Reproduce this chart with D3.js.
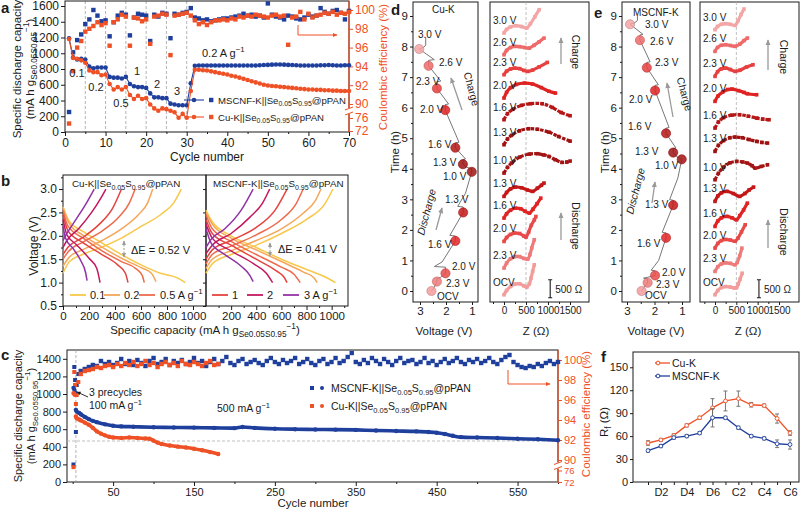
<!DOCTYPE html>
<html>
<head>
<meta charset="utf-8">
<script src="https://cdn.jsdelivr.net/npm/d3@7"></script>
<style>
  body { margin: 0; background: #fff; }
  svg { font-family: "Liberation Sans", Arial, sans-serif; }
</style>
</head>
<body>
<svg id="fig" width="800" height="510"></svg>
<script>
// ---------- panel a : rate test, cycles 1..70
const aCapMSCNF = [1190,950,920,930,920,830,810,820,820,820,
  700,690,690,680,700,610,580,570,570,560,
  490,440,440,430,430,360,350,340,340,340,
  620,840,845,845,845,845,845,845,845,845,
  845,845,845,845,845,845,845,848,850,852,
  855,858,858,855,852,850,848,845,845,845,
  845,845,848,848,850,848,845,845,848,848];
const aCapCu = [1180,940,930,910,880,780,760,760,720,730,
  610,540,570,540,570,470,420,460,420,430,
  350,300,270,300,290,270,250,180,230,180,
  520,790,790,785,780,770,760,750,740,730,
  715,705,690,675,660,645,630,615,600,590,
  585,580,575,570,565,560,555,550,545,540,
  540,535,535,530,530,525,525,520,520,520];
const aCeMSCNF = [82,95.5,96.8,97.4,98.5,99.0,100,99.4,98.8,98.9,
  97.2,98.7,99.4,99.7,99.5,97.3,99.2,99.6,99.5,99.4,
  96.7,99.5,99.3,99.7,99.6,97.0,99.6,99.5,99.7,99.8,
  100.2,99.2,99.1,98.9,99.0,98.8,98.9,99.0,99.1,99.1,
  99.2,99.3,99.4,99.6,99.4,99.5,99.3,99.4,99.2,100.7,
  99.5,99.3,99.2,99.0,99.4,99.3,99.1,99.0,99.2,99.5,
  99.3,99.4,100.2,99.8,99.6,99.9,100.0,99.7,99.0,99.9];
const aCeCu = [74.3,93.5,96.0,96.7,97.7,98.0,98.3,98.7,98.4,98.6,
  96.2,98.7,99.0,99.5,99.3,96.2,99.2,99.1,98.8,99.0,
  96.4,99.3,99.4,99.6,99.5,95.2,99.4,99.5,99.6,99.7,
  99.4,98.9,98.5,98.7,98.4,98.7,98.9,98.9,99.0,98.9,
  99.1,99.0,99.3,99.2,99.4,99.3,99.5,99.4,99.3,99.2,
  99.4,99.5,99.3,99.4,96.3,99.2,99.3,99.8,99.0,99.6,
  99.2,99.4,99.5,99.7,99.6,99.8,99.5,99.7,99.6,99.8];
const aRateSwitch = [5, 10, 15, 20, 25, 30];

// ---------- panel b : charge / discharge profiles [capacity, voltage]
const bRates = ["0.1", "0.2", "0.5", "1", "2", "3"];
const bColors = ["#f8c84a", "#f4a65a", "#ee6b4d", "#e5433f", "#c2195e", "#9233a6"];
const bCuDis = [
  [[0,2.62],[50,2.3],[150,2.1],[300,1.85],[450,1.6],[600,1.38],[750,1.2],[880,1.1],[940,1.0]],
  [[0,2.6],[50,2.25],[150,2.02],[300,1.76],[450,1.52],[600,1.32],[680,1.2],[715,1.02]],
  [[0,2.55],[40,2.2],[150,1.96],[300,1.68],[450,1.45],[560,1.3],[610,1.15],[625,1.0]],
  [[0,2.45],[40,2.1],[150,1.86],[300,1.6],[420,1.38],[480,1.2],[500,1.0]],
  [[0,2.35],[30,2.02],[100,1.82],[200,1.52],[260,1.3],[285,1.0]],
  [[0,2.2],[20,1.95],[80,1.72],[140,1.45],[175,1.2],[185,1.04]]];
const bCuChg = [
  [[0,1.2],[50,1.45],[150,1.6],[300,1.76],[450,1.95],[600,2.2],[750,2.45],[850,2.7],[910,3.0]],
  [[0,1.35],[50,1.55],[150,1.7],[300,1.9],[450,2.15],[580,2.45],[650,2.7],[690,3.0]],
  [[0,1.5],[40,1.66],[150,1.86],[300,2.1],[430,2.4],[510,2.7],[555,3.0]],
  [[0,1.6],[40,1.76],[150,1.96],[280,2.25],[380,2.58],[450,3.0]],
  [[0,1.75],[30,1.9],[120,2.15],[220,2.5],[290,2.8],[330,3.0]],
  [[0,1.9],[30,2.05],[100,2.35],[180,2.7],[240,3.0]]];
const bMsDis = [
  [[0,2.55],[50,2.3],[200,2.0],[400,1.75],[600,1.5],[800,1.28],[950,1.12],[1030,1.0]],
  [[0,2.5],[50,2.25],[200,1.95],[400,1.7],[600,1.45],[780,1.22],[860,1.1],[885,1.0]],
  [[0,2.45],[50,2.15],[200,1.88],[400,1.6],[600,1.33],[700,1.18],[750,1.0]],
  [[0,2.35],[50,2.05],[200,1.8],[400,1.5],[560,1.25],[620,1.12],[645,1.0]],
  [[0,2.25],[50,1.95],[200,1.68],[380,1.4],[480,1.2],[530,1.0]],
  [[0,2.15],[40,1.85],[150,1.6],[280,1.35],[350,1.15],[375,1.02]]];
const bMsChg = [
  [[0,1.2],[50,1.4],[200,1.6],[400,1.8],[600,2.05],[800,2.35],[950,2.7],[1010,3.0]],
  [[0,1.3],[50,1.5],[200,1.68],[400,1.9],[600,2.15],[780,2.5],[870,2.75],[915,3.0]],
  [[0,1.4],[50,1.6],[200,1.78],[400,2.02],[600,2.35],[720,2.7],[773,3.0]],
  [[0,1.5],[50,1.7],[200,1.9],[400,2.18],[550,2.55],[645,3.0]],
  [[0,1.62],[50,1.8],[200,2.05],[350,2.4],[450,2.7],[507,3.0]],
  [[0,1.75],[40,1.92],[150,2.15],[280,2.55],[375,3.0]]];

// ---------- panel c : long cycling
const cCapCyclesMS = [1,2,3,4,5,8,10,15,20,25,30,40,50,60,75,100,125,150,175,200,210,225,250,275,300,325,350,375,400,425,440,450,460,470,480,500,525,550,575,600];
const cCapMSCNF = [1070,1050,1020,820,800,785,770,740,715,695,680,655,640,632,628,622,620,618,615,612,625,615,605,600,597,595,592,585,580,575,568,560,545,525,510,505,500,492,485,475];
const cCapCyclesCu = [1,2,3,4,5,8,10,15,20,25,30,35,40,45,50,60,70,80,90,95,100,105,110,120,130,140,150,160,170,180];
const cCapCu = [1010,1000,990,745,725,710,700,675,650,615,575,550,530,515,505,500,505,500,495,492,470,448,432,415,402,392,378,360,340,318];
const cCeEarlyCycles = [1,2,3,4,5,7];
const cCeEarlyMSCNF = [84,99.3,98.0,92.8,97.5,98.6];
const cCeEarlyCu = [80.5,98.8,97.5,95.6,96.5,97.8];
const cCeMSCNF = [98.9,99.1,99.3,99.5,99.4,99.9,99.6,99.8,99.5,
  99.7,100.1,99.6,99.9,99.5,100.0,99.7,99.4,99.9,100.2,
  99.6,99.8,100.1,99.5,99.9,99.7,100.0,99.6,99.8,100.2,
  99.7,99.9,99.4,99.8,100.1,99.6,99.9,100.3,99.7,99.5,
  99.9,100.1,99.6,99.8,100.0,99.7,99.5,99.9,100.2,99.8,
  99.6,100.0,99.7,99.9,100.2,99.6,99.8,100.1,99.7,99.5,
  99.9,100.1,99.6,99.8,100.2,99.7,99.9,100.3,100.7,99.8,
  99.6,100.0,99.7,100.2,99.9,99.6,100.1,99.8,99.5,99.9,
  100.2,99.7,99.9,100.0,99.6,99.8,100.2,99.7,99.9,99.5,
  99.8,100.1,99.7,99.9,100.2,99.8,99.6,100.0,99.8,100.1,
  99.7,99.9,100.2,99.8,99.6,100.0,100.3,100.5,99.8,99.5,
  99.3,99.2,99.4,99.3,99.6,99.4,99.7,99.9,99.6,99.8];
const cCeCu = [98.6,98.9,99.0,99.1,99.3,99.2,99.4,99.5,99.3,99.6,
  99.4,99.7,99.5,99.8,99.4,99.6,99.9,99.5,99.7,99.3,
  99.6,99.8,99.5,99.7,99.4,99.9,99.6,99.5,99.8,99.6,
  99.4,99.7,99.9,99.5,99.6];

// ---------- panels d, e : in-situ EIS
const eisLabels = ["OCV","2.3 V","2.0 V","1.6 V","1.3 V","1.0 V","1.3 V","1.6 V","2.0 V","2.3 V","2.6 V","3.0 V"];
const eisColors = ["#f39c9c","#ee7b7b","#e84a4a","#e02424","#c41818","#a31414","#a01212","#b51616","#df2222","#e64040","#ee6a6a","#f4a5a5"];
const dStops = [[2.56,0],[2.35,0.31],[2.02,0.58],[1.64,1.64],[1.34,2.57],[1.01,3.90],[1.35,4.15],[1.64,4.69],[2.03,5.92],[2.35,6.63],[2.67,7.37],[3.03,7.92]];
const dTrace = [[2.56,0],[2.45,0.12],[2.35,0.31],[2.35,0.40],[2.20,0.45],[2.02,0.58],[2.02,0.78],[2.45,0.80],[2.15,0.95],[1.64,1.64],[1.64,1.80],[1.85,1.82],[1.34,2.57],[1.34,2.75],[1.55,2.77],[1.25,3.2],[1.01,3.90],[1.01,4.0],[1.20,4.05],[1.35,4.15],[1.35,4.3],[1.25,4.32],[1.64,4.69],[1.64,4.85],[1.50,4.87],[2.03,5.92],[2.03,6.1],[1.90,6.12],[2.35,6.63],[2.35,6.85],[2.20,6.87],[2.67,7.37],[2.67,7.55],[2.45,7.57],[3.03,7.92],[2.85,7.98],[2.78,8.05],[2.78,8.3]];
const dNyqBase = [0,742,1483,2132,2735,3384,4172,4867,5469,6118,6674,7277];
const dNyq = [
  [[0,0],[59,120],[148,230],[244,297],[355,306],[451,250],[518,213],[577,306],[614,464],[651,649],[688,834]],
  [[0,0],[59,140],[148,260],[244,320],[355,320],[451,270],[540,250],[590,380],[630,560],[688,790]],
  [[0,0],[59,110],[148,195],[244,232],[355,220],[451,150],[500,120],[560,260],[620,450],[690,600],[725,695]],
  [[0,0],[59,120],[148,220],[260,275],[380,260],[480,190],[577,139],[660,250],[750,400],[836,556]],
  [[0,0],[59,110],[148,210],[260,260],[400,240],[530,180],[651,139],[760,230],[850,310],[910,371]],
  [[0,0],[80,160],[170,278],[355,445],[577,528],[762,538],[900,505],[1021,463],[1169,371],[1317,297],[1428,306],[1502,334]],
  [[0,0],[80,160],[170,260],[355,390],[560,445],[760,430],[1021,350],[1240,230],[1502,100]],
  [[0,0],[80,170],[200,290],[400,400],[600,445],[870,445],[1100,340],[1300,200],[1502,111]],
  [[0,0],[59,160],[148,290],[280,380],[467,417],[650,390],[850,290],[1020,190],[1169,139]],
  [[0,0],[59,100],[148,160],[244,185],[355,170],[451,120],[540,93],[650,130],[800,220],[985,343]],
  [[0,0],[59,120],[148,200],[244,232],[355,225],[470,200],[577,185],[680,260],[800,360],[910,463]],
  [[0,0],[59,100],[148,170],[270,204],[400,180],[518,139],[600,260],[700,450],[799,649]]];
const eStops = [[2.47,0],[2.25,0.27],[1.98,0.51],[1.58,1.74],[1.32,2.81],[1.01,4.31],[1.32,4.53],[1.58,5.16],[1.98,6.56],[2.28,7.31],[2.53,8.21],[2.89,8.73]];
const eTrace = [[2.47,0],[2.38,0.12],[2.25,0.27],[2.25,0.40],[2.40,0.42],[2.25,0.45],[1.98,0.51],[1.98,0.66],[2.12,0.68],[1.85,1.0],[1.58,1.74],[1.58,1.9],[1.72,1.92],[1.32,2.81],[1.32,2.97],[1.45,2.99],[1.15,3.7],[1.01,4.31],[1.20,4.4],[1.32,4.53],[1.32,4.66],[1.22,4.68],[1.58,5.16],[1.58,5.33],[1.47,5.35],[1.98,6.56],[1.98,6.73],[1.86,6.75],[2.28,7.31],[2.28,7.48],[2.16,7.5],[2.53,8.21],[2.53,8.38],[2.42,8.4],[2.89,8.73],[2.72,8.78],[2.62,8.85],[2.62,9.0]];
const eNyqBase = [0,649,1298,1900,2596,3198,3986,4635,5377,6072,6767,7370];
const eNyq = [
  [[0,0],[65,120],[150,200],[250,230],[360,215],[450,190],[506,200],[545,300],[590,440],[636,600]],
  [[0,0],[65,130],[150,210],[250,240],[360,225],[470,185],[520,250],[580,440],[630,649]],
  [[0,0],[65,130],[150,210],[250,240],[360,225],[470,190],[540,280],[620,450],[708,649]],
  [[0,0],[65,150],[150,240],[280,280],[400,240],[506,185],[580,300],[670,460],[759,649]],
  [[0,0],[65,150],[150,240],[280,280],[430,220],[578,139],[700,220],[800,320],[904,399]],
  [[0,0],[80,180],[200,350],[350,470],[506,510],[650,495],[759,463],[870,390],[940,324],[1085,371],[1230,417]],
  [[0,0],[80,170],[200,300],[350,380],[470,400],[640,380],[800,330],[976,278],[1100,250],[1230,232]],
  [[0,0],[80,170],[200,290],[400,360],[578,371],[780,330],[976,278],[1120,250],[1266,232]],
  [[0,0],[70,150],[180,260],[300,330],[398,343],[550,300],[680,250],[759,213],[976,185]],
  [[0,0],[60,130],[150,210],[250,230],[360,190],[470,139],[580,170],[740,260],[890,324]],
  [[0,0],[60,110],[150,170],[250,185],[360,165],[470,139],[580,200],[680,300],[759,371]],
  [[0,0],[60,90],[150,150],[250,167],[360,150],[470,120],[540,250],[610,420],[679,575]]];

// ---------- panel f : Rf
const fSteps = ["D1","D2","D3","D4","D5","D6","C1","C2","C3","C4","C5","C6"];
const fCu = [51,55,61,74,84,97,106,109,101,100,83,64];
const fCuErr = [3,2,2,2,2,12,13,10,3,2,6,3];
const fMs = [41,47,58,60,64,84,84,71,60,57,50,49];
const fMsErr = [2,2,2,2,2,12,2,2,2,2,5,6];

// ================= drawing =================
const svg = d3.select("#fig");
const INK = "#1a1a1a";
const BLUE = "#1f3f9d", RED = "#ef5126", GRAY = "#9a9a9a";
const plain = d3.format("d");

const defs = svg.append("defs");
function arrowMarker(id, color) {
  defs.append("marker").attr("id", id).attr("viewBox", "0 0 10 10")
    .attr("refX", 8).attr("refY", 5).attr("markerWidth", 5).attr("markerHeight", 5)
    .attr("orient", "auto-start-reverse")
    .append("path").attr("d", "M0,1L9,5L0,9z").attr("fill", color);
}
arrowMarker("arGray", GRAY);
arrowMarker("arRed", RED);
arrowMarker("arInk", INK);

// text with sub / superscripts
function rich(x, y, parts, o = {}) {
  const size = o.size || 10;
  const t = svg.append("text").attr("x", x).attr("y", y)
    .attr("font-size", size).attr("fill", o.fill || INK)
    .attr("text-anchor", o.anchor || "start");
  if (o.rotate) t.attr("transform", `rotate(${o.rotate},${x},${y})`);
  let shift = 0;
  parts.forEach(p => {
    const [txt, kind] = Array.isArray(p) ? p : [p, ""];
    const target = kind === "sub" ? size * 0.3 : kind === "sup" ? -size * 0.42 : 0;
    const s = t.append("tspan").text(txt).attr("dy", target - shift);
    if (kind) s.attr("font-size", size * 0.72);
    shift = target;
  });
  return t;
}
const cell = name => [name + "||Se", ["0.05", "sub"], "S", ["0.95", "sub"], "@pPAN"];
const gUnit = ["(mA h g", ["Se0.05S0.95", "sub"], ["\u22121", "sup"], ")"];
const perG = txt => [txt + " A g", ["\u22121", "sup"]];

function drawAxis(axis, tx, ty, o = {}) {
  const g = svg.append("g").attr("transform", `translate(${tx},${ty})`).call(axis);
  g.select(".domain").remove();
  g.selectAll(".tick line").attr("stroke", o.color || INK);
  g.selectAll(".tick text").attr("font-size", o.size || 11).attr("fill", o.color || INK)
    .attr("font-family", "Liberation Sans, Arial, sans-serif");
  return g;
}
function box(x0, y0, x1, y1, rightColor) {
  svg.append("rect").attr("x", x0).attr("y", y0).attr("width", x1 - x0).attr("height", y1 - y0)
    .attr("fill", "none").attr("stroke", INK).attr("stroke-width", 1);
  if (rightColor) svg.append("line").attr("x1", x1).attr("x2", x1).attr("y1", y0).attr("y2", y1)
    .attr("stroke", rightColor).attr("stroke-width", 1.2);
}
function axisBreak(x, y) {
  svg.append("rect").attr("x", x - 4).attr("y", y - 3).attr("width", 8).attr("height", 6).attr("fill", "#fff");
  [-2.5, 2.5].forEach(d => svg.append("line").attr("x1", x - 4).attr("x2", x + 4)
    .attr("y1", y + d + 1.5).attr("y2", y + d - 1.5).attr("stroke", RED).attr("stroke-width", 1));
}
function panelLetter(t, x, y) {
  svg.append("text").attr("x", x).attr("y", y).attr("font-size", 15).attr("font-weight", "bold").attr("fill", INK).text(t);
}
function arrowPath(pts, marker, color, w) {
  svg.append("path").attr("d", d3.line()(pts)).attr("fill", "none").attr("stroke", color)
    .attr("stroke-width", w || 1).attr("marker-end", `url(#${marker})`);
}
function squares(data, xf, yf, color, s) {
  svg.append("g").selectAll("rect").data(data).join("rect")
    .attr("x", d => xf(d) - s / 2).attr("y", d => yf(d) - s / 2)
    .attr("width", s).attr("height", s).attr("fill", color);
}

// ---------------- panel a ----------------
{
  const x = d3.scaleLinear().domain([0, 70]).range([65, 349]);
  const y = d3.scaleLinear().domain([0, 1600]).range([132, 6]);
  const ce = d3.scaleLinear().domain([72, 76, 90, 100]).range([131, 118, 104, 10]);
  const cyc = d3.range(1, 71);
  aRateSwitch.forEach(c => svg.append("line").attr("x1", x(c)).attr("x2", x(c)).attr("y1", 1).attr("y2", 132)
    .attr("stroke", "#a0a0a0").attr("stroke-dasharray", "3,2").attr("stroke-width", 0.8));
  box(65, 1, 349, 132, RED);
  drawAxis(d3.axisBottom(x).tickValues(d3.range(0, 71, 10)).tickFormat(plain).tickSize(4).tickPadding(2), 0, 132, { size: 12 });
  drawAxis(d3.axisBottom(x).tickValues(d3.range(5, 70, 10)).tickSize(2).tickFormat(""), 0, 132);
  drawAxis(d3.axisLeft(y).tickValues(d3.range(0, 1601, 200)).tickFormat(plain).tickSize(4).tickPadding(2), 65, 0, { size: 12 });
  drawAxis(d3.axisRight(ce).tickValues([72, 76, 90, 92, 94, 96, 98, 100]).tickFormat(plain).tickSize(4).tickPadding(2), 349, 0, { size: 12, color: RED });
  axisBreak(349, 111);

  squares(aCeMSCNF.map((v, i) => [cyc[i], v]), d => x(d[0]), d => ce(d[1]), BLUE, 4.4);
  squares(aCeCu.map((v, i) => [cyc[i], v]), d => x(d[0]), d => ce(d[1]), RED, 4.4);
  [[aCapMSCNF, BLUE], [aCapCu, RED]].forEach(([vals, col]) => {
    svg.append("path").attr("d", d3.line().x((d, i) => x(cyc[i])).y(d => y(d))(vals))
      .attr("fill", "none").attr("stroke", col).attr("stroke-width", 1.1);
    svg.append("g").selectAll("circle").data(vals).join("circle")
      .attr("cx", (d, i) => x(cyc[i])).attr("cy", d => y(d)).attr("r", 2.3).attr("fill", col);
  });

  // rate labels
  [["0.1", 77, 77], ["0.2", 96, 91], ["0.5", 121, 107], ["1", 137, 75], ["2", 157, 88], ["3", 177, 95]]
    .forEach(([t, px, py]) => svg.append("text").attr("x", px).attr("y", py).attr("text-anchor", "middle")
      .attr("font-size", 11).attr("fill", INK).text(t));
  rich(202, 57, perG("0.2"), { size: 11 });
  arrowPath([[298, 25], [298, 35], [337, 35]], "arRed", RED, 1);

  // legend
  [[BLUE, 100, "MSCNF-K"], [RED, 117, "Cu-K"]].forEach(([col, ly, name]) => {
    svg.append("line").attr("x1", 184).attr("x2", 204).attr("y1", ly).attr("y2", ly).attr("stroke", col).attr("stroke-width", 1.1);
    svg.append("circle").attr("cx", 194).attr("cy", ly).attr("r", 2.3).attr("fill", col);
    svg.append("rect").attr("x", 209).attr("y", ly - 2.2).attr("width", 4.4).attr("height", 4.4).attr("fill", col);
    rich(218, ly + 3.5, cell(name), { size: 9.6 });
  });

  rich(207, 161, ["Cycle number"], { size: 12, anchor: "middle" });
  rich(21, 69, ["Specific discharge capacity"], { size: 11.5, anchor: "middle", rotate: -90 });
  rich(34, 69, gUnit, { size: 11.5, anchor: "middle", rotate: -90 });
  rich(387, 67, ["Coulombic efficiency (%)"], { size: 11.5, anchor: "middle", rotate: -90, fill: RED });
  panelLetter("a", 1, 13);
}

// ---------------- panel b ----------------
{
  const y = d3.scaleLinear().domain([0.5, 3.3]).range([306, 175]);
  const xl = d3.scaleLinear().domain([0, 1100]).range([63, 206]);
  const xr = d3.scaleLinear().domain([0, 1130]).range([206, 348]);
  box(63, 175, 206, 306);
  box(206, 175, 348, 306);
  drawAxis(d3.axisLeft(y).tickValues([0.5, 1, 1.5, 2, 2.5, 3]).tickFormat(d3.format(".1f")).tickSize(4).tickPadding(2), 63, 0, { size: 12 });
  drawAxis(d3.axisLeft(y).tickValues([0.75, 1.25, 1.75, 2.25, 2.75, 3.25]).tickSize(2).tickFormat(""), 63, 0);
  drawAxis(d3.axisLeft(y).tickValues([0.5, 1, 1.5, 2, 2.5, 3]).tickSize(3).tickFormat(""), 206, 0);
  drawAxis(d3.axisBottom(xl).tickValues([0, 200, 400, 600, 800, 1000]).tickFormat(plain).tickSize(4).tickPadding(2), 0, 306, { size: 11.5 });
  drawAxis(d3.axisBottom(xl).tickValues([100, 300, 500, 700, 900]).tickSize(2).tickFormat(""), 0, 306);
  drawAxis(d3.axisBottom(xr).tickValues([200, 400, 600, 800, 1000]).tickFormat(plain).tickSize(4).tickPadding(2), 0, 306, { size: 11.5 });
  drawAxis(d3.axisBottom(xr).tickValues([100, 300, 500, 700, 900, 1100]).tickSize(2).tickFormat(""), 0, 306);

  const line = sx => d3.line().curve(d3.curveMonotoneX).x(d => sx(d[0])).y(d => y(d[1]));
  [[xl, bCuDis, bCuChg], [xr, bMsDis, bMsChg]].forEach(([sx, dis, chg]) => {
    bRates.forEach((r, i) => {
      [dis[i], chg[i]].forEach(c => svg.append("path").attr("d", line(sx)(c))
        .attr("fill", "none").attr("stroke", bColors[i]).attr("stroke-width", 1.5));
    });
  });

  // delta E marks
  [[124, 238, 260, 131, 254, "0.52"], [270, 240, 259, 278, 253, "0.41"]].forEach(([ax, y0, y1, tx, ty, v]) => {
    svg.append("line").attr("x1", ax).attr("x2", ax).attr("y1", y0 + 3).attr("y2", y1 - 3)
      .attr("stroke", GRAY).attr("stroke-dasharray", "2,1.5").attr("marker-start", "url(#arGray)").attr("marker-end", "url(#arGray)");
    rich(tx, ty, ["\u0394E = " + v + " V"], { size: 11 });
  });

  rich(72, 187, cell("Cu-K"), { size: 9.8 });
  rich(213, 187, cell("MSCNF-K"), { size: 9.8 });

  // legend
  const leg = [[70, 90, "0.1"], [104, 124, "0.2"], [139, 160, "0.5 A g"], [212, 232, "1"], [247, 267, "2"], [283, 304, "3 A g"]];
  leg.forEach(([lx, tx, t], i) => {
    svg.append("line").attr("x1", lx).attr("x2", lx + 16).attr("y1", 295).attr("y2", 295)
      .attr("stroke", bColors[i]).attr("stroke-width", 1.8);
    const parts = t.endsWith("A g") ? [t, ["\u22121", "sup"]] : [t];
    rich(tx, 299, parts, { size: 11 });
  });

  rich(205, 334, ["Specific capacity  "].concat(gUnit), { size: 11.5, anchor: "middle" });
  rich(38, 246, ["Voltage  (V)"], { size: 12, anchor: "middle", rotate: -90 });
  panelLetter("b", 1, 186);
}

// ---------------- panel c ----------------
{
  const x = d3.scaleLinear().domain([-7, 600]).range([67, 558]);
  const y = d3.scaleLinear().domain([0, 1500]).range([482, 350]);
  const ce = d3.scaleLinear().domain([72, 76, 90, 100]).range([482, 470.5, 460, 360]);
  box(67, 350, 558, 482, RED);
  svg.append("line").attr("x1", x(4)).attr("x2", x(4)).attr("y1", 350).attr("y2", 482)
    .attr("stroke", "#a0a0a0").attr("stroke-dasharray", "3,2").attr("stroke-width", 0.8);
  svg.append("line").attr("x1", 67).attr("x2", 558).attr("y1", y(466)).attr("y2", y(466))
    .attr("stroke", "#b0b0b0").attr("stroke-dasharray", "3,2").attr("stroke-width", 0.8);
  drawAxis(d3.axisBottom(x).tickValues(d3.range(50, 551, 100)).tickFormat(plain).tickSize(4).tickPadding(2), 0, 482, { size: 11 });
  drawAxis(d3.axisBottom(x).tickValues(d3.range(0, 601, 100)).tickSize(2).tickFormat(""), 0, 482);
  drawAxis(d3.axisLeft(y).tickValues(d3.range(0, 1401, 200)).tickFormat(plain).tickSize(4).tickPadding(2), 67, 0, { size: 11 });
  drawAxis(d3.axisRight(ce).tickValues([90, 92, 94, 96, 98, 100]).tickFormat(plain).tickSize(4).tickPadding(2), 558, 0, { size: 11, color: RED });
  drawAxis(d3.axisRight(ce).tickValues([72, 76]).tickFormat(plain).tickSize(4).tickPadding(2), 558, 0, { size: 9.5, color: RED });
  axisBreak(558, 465.5);

  const c5Ms = d3.range(10, 601, 5), c5Cu = d3.range(10, 181, 5);
  squares(cCeEarlyMSCNF.map((v, i) => [cCeEarlyCycles[i], v]), d => x(d[0]), d => ce(d[1]), BLUE, 4);
  squares(cCeMSCNF.map((v, i) => [c5Ms[i], v]), d => x(d[0]), d => ce(d[1]), BLUE, 4.4);
  squares(cCeEarlyCu.map((v, i) => [cCeEarlyCycles[i], v]), d => x(d[0]), d => ce(d[1]), RED, 4);
  squares(cCeCu.map((v, i) => [c5Cu[i], v]), d => x(d[0]), d => ce(d[1]), RED, 4.4);

  [[cCapCyclesMS, cCapMSCNF, BLUE], [cCapCyclesCu, cCapCu, RED]].forEach(([cy, vals, col]) => {
    const pts = vals.map((v, i) => [cy[i], v]);
    svg.append("path").attr("d", d3.line().curve(d3.curveMonotoneX).x(d => x(d[0])).y(d => y(d[1]))(pts.filter(d => d[0] >= 4)))
      .attr("fill", "none").attr("stroke", col).attr("stroke-width", 3.6).attr("stroke-linecap", "round");
    svg.append("g").selectAll("circle").data(pts).join("circle")
      .attr("cx", d => x(d[0])).attr("cy", d => y(d[1])).attr("r", 2.2).attr("fill", col);
  });

  rich(89, 396, ["3 precycles"], { size: 10.5 });
  rich(89, 409, ["100 mA g", ["\u22121", "sup"]], { size: 10.5 });
  arrowPath([[88, 397], [77, 392]], "arInk", INK, 0.9);
  rich(217, 412, ["500 mA g", ["\u22121", "sup"]], { size: 10.5 });
  arrowPath([[508, 370], [508, 384], [550, 384]], "arRed", RED, 1);

  [[BLUE, 388, "MSCNF-K"], [RED, 406, "Cu-K"]].forEach(([col, ly, name]) => {
    svg.append("rect").attr("x", 310).attr("y", ly - 2).attr("width", 4).attr("height", 4).attr("fill", col);
    svg.append("circle").attr("cx", 322).attr("cy", ly).attr("r", 2).attr("fill", col);
    rich(331, ly + 3.5, cell(name), { size: 10.5 });
  });

  rich(313, 507, ["Cycle number"], { size: 11.5, anchor: "middle" });
  rich(22, 416, ["Specific discharge capacity"], { size: 11, anchor: "middle", rotate: -90 });
  rich(35, 416, gUnit, { size: 11, anchor: "middle", rotate: -90 });
  rich(590, 414, ["Coulombic efficiency (%)"], { size: 11.5, anchor: "middle", rotate: -90, fill: RED });
  panelLetter("c", 1, 360);
}

// ---------------- panels d / e ----------------
function eisPanel(c) {
  const v = d3.scaleLinear().domain([3, 1]).range(c.vRange);
  const t = d3.scaleLinear().domain([0, 9]).range([291, 16]);
  const z = d3.scaleLinear().domain([0, 1500]).range(c.zRange);
  const zy = d3.scaleLinear().domain([-200, 8140]).range([302, 2]);
  box(c.f1[0], 2, c.f1[1], 302);
  box(c.f2[0], 2, c.f2[1], 302);
  drawAxis(d3.axisLeft(t).tickValues(d3.range(0, 10)).tickFormat(plain).tickSize(3).tickPadding(2), c.f1[0], 0, { size: 11.5 });
  drawAxis(d3.axisLeft(t).tickValues(d3.range(0.5, 9.5, 1)).tickSize(2).tickFormat(""), c.f1[0], 0);
  drawAxis(d3.axisBottom(v).tickValues([3, 2, 1]).tickFormat(plain).tickSize(3).tickPadding(2), 0, 302, { size: 11.5 });
  drawAxis(d3.axisBottom(v).tickValues([2.5, 1.5]).tickSize(2).tickFormat(""), 0, 302);
  drawAxis(d3.axisBottom(z).tickValues([0, 500, 1000, 1500]).tickFormat(plain).tickSize(3).tickPadding(2), 0, 302, { size: 10 });
  drawAxis(d3.axisBottom(z).tickValues([-250, 250, 750, 1250]).tickSize(2).tickFormat(""), 0, 302);

  // voltage-time trace
  svg.append("path").attr("d", d3.line().x(d => v(d[0])).y(d => t(d[1]))(c.trace))
    .attr("fill", "none").attr("stroke", "#777").attr("stroke-width", 1);
  svg.append("g").selectAll("circle").data(c.stops).join("circle")
    .attr("cx", d => v(d[0])).attr("cy", d => t(d[1])).attr("r", 4.6)
    .attr("fill", (d, i) => eisColors[i]).attr("fill-opacity", 0.85)
    .attr("stroke", (d, i) => d3.color(eisColors[i]).darker(0.6)).attr("stroke-width", 0.6);
  c.stopLabels.forEach(([px, py], i) => rich(px, py, [eisLabels[i]], { size: 10 }));
  rich(c.title[0], c.title[1], [c.title[2]], { size: 10 });

  // Nyquist stack
  svg.append("line").attr("x1", z(500)).attr("x2", z(500)).attr("y1", 2).attr("y2", 302)
    .attr("stroke", "#b0b0b0").attr("stroke-dasharray", "3,2").attr("stroke-width", 0.8);
  const nl = base => d3.line().curve(d3.curveCatmullRom).x(d => z(d[0])).y(d => zy(base + d[1]));
  c.nyq.forEach((curve, i) => {
    const base = c.base[i];
    svg.append("path").attr("d", nl(base)(curve)).attr("fill", "none")
      .attr("stroke", eisColors[i]).attr("stroke-width", 3.2).attr("stroke-dasharray", i >= 5 && i <= 7 ? "3.5,1.2" : null);
    svg.append("g").selectAll("rect").data(curve).join("rect")
      .attr("x", d => z(d[0]) - 1.8).attr("y", d => zy(base + d[1]) - 1.8)
      .attr("width", 3.6).attr("height", 3.6).attr("fill", eisColors[i]);
    rich(c.f2[0] + 3, zy(base) - 9, [eisLabels[i]], { size: 10 });
  });
  // 500 ohm scale bar
  const bx = z(c.barZ);
  svg.append("path").attr("d", `M${bx - 2},${zy(-80)}H${bx + 2}M${bx},${zy(-80)}V${zy(420)}M${bx - 2},${zy(420)}H${bx + 2}`)
    .attr("stroke", INK).attr("stroke-width", 1.1).attr("fill", "none");
  rich(bx + 5, zy(40), ["500 \u03a9"], { size: 10 });

  // charge / discharge arrows
  c.arrows.forEach(([x0, y0, x1, y1]) => arrowPath([[x0, y0], [x1, y1]], "arGray", GRAY, 1.3));
  c.words.forEach(([w, px, py, rot]) => svg.append("text").attr("x", px).attr("y", py)
    .attr("text-anchor", "middle").attr("font-size", 10.5).attr("fill", INK)
    .attr("font-style", w === "Discharge" && rot < 0 ? "italic" : null)
    .attr("transform", `rotate(${rot},${px},${py})`).text(w));

  rich(c.vLab, 335, ["Voltage (V)"], { size: 11.5, anchor: "middle" });
  rich(c.zLab, 335, ["Z (\u03a9)"], { size: 11.5, anchor: "middle" });
  rich(c.tLab, 152, ["Time (h)"], { size: 11.5, anchor: "middle", rotate: -90 });
}

eisPanel({
  vRange: [420, 472], zRange: [504, 570], f1: [413, 478], f2: [490, 589],
  trace: dTrace, stops: dStops, nyq: dNyq, base: dNyqBase, barZ: 1050,
  stopLabels: [[437, 300], [446, 287], [452, 270], [428, 248], [445, 203], [443, 180], [433, 166], [428, 148], [420, 113], [416, 85], [439, 66], [418, 38]],
  title: [432, 13, "Cu-K"],
  arrows: [[462, 110, 451, 78], [436, 230, 442, 208], [561, 64, 561, 38], [561, 240, 561, 213]],
  words: [["Charge", 468, 90, 75], ["Discharge", 430, 213, -75], ["Charge", 572, 52, 90], ["Discharge", 572, 226, 90]],
  vLab: 444, zLab: 536, tLab: 399
});
eisPanel({
  vRange: [627, 682], zRange: [715, 779], f1: [622, 690], f2: [700, 799],
  trace: eTrace, stops: eStops, nyq: eNyq, base: eNyqBase, barZ: 1030,
  stopLabels: [[645, 299], [656, 288], [662, 276], [637, 247], [645, 208], [655, 169], [635, 155], [628, 130], [629, 103], [655, 66], [650, 45], [645, 28]],
  title: [633, 16, "MSCNF-K"],
  arrows: [[673, 117, 667, 83], [652, 203, 655, 182], [768, 70, 768, 40], [768, 248, 768, 220]],
  words: [["Charge", 681, 95, 75], ["Discharge", 639, 192, -75], ["Charge", 780, 57, 90], ["Discharge", 780, 232, 90]],
  vLab: 656, zLab: 748, tLab: 609
});
panelLetter("d", 391, 15);
panelLetter("e", 594, 18);

// ---------------- panel f ----------------
{
  const x = d3.scalePoint().domain(fSteps).range([648, 790]);
  const y = d3.scaleLinear().domain([0, 170]).range([482, 352]);
  box(633, 352, 799, 482);
  drawAxis(d3.axisLeft(y).tickValues([0, 30, 60, 90, 120, 150]).tickFormat(plain).tickSize(3).tickPadding(2), 633, 0, { size: 11 });
  drawAxis(d3.axisBottom(x).tickSize(3).tickPadding(3).tickFormat((d, i) => i % 2 === 1 ? d : ""), 0, 482, { size: 11 });
  [[fCu, fCuErr, RED], [fMs, fMsErr, BLUE]].forEach(([vals, err, col]) => {
    const eg = svg.append("g").attr("stroke", "#6a6a6a").attr("stroke-width", 0.9);
    vals.forEach((v, i) => {
      const cx = x(fSteps[i]);
      eg.append("path").attr("d", `M${cx},${y(v - err[i])}V${y(v + err[i])}M${cx - 2},${y(v - err[i])}H${cx + 2}M${cx - 2},${y(v + err[i])}H${cx + 2}`);
    });
    svg.append("path").attr("d", d3.line().x((d, i) => x(fSteps[i])).y(d => y(d))(vals))
      .attr("fill", "none").attr("stroke", col).attr("stroke-width", 1.3);
    svg.append("g").selectAll("circle").data(vals).join("circle")
      .attr("cx", (d, i) => x(fSteps[i])).attr("cy", d => y(d)).attr("r", 1.9)
      .attr("fill", "#fff").attr("stroke", col).attr("stroke-width", 0.9);
  });
  [[RED, 363, "Cu-K"], [BLUE, 376, "MSCNF-K"]].forEach(([col, ly, name]) => {
    svg.append("line").attr("x1", 655).attr("x2", 670).attr("y1", ly).attr("y2", ly).attr("stroke", col).attr("stroke-width", 1.3);
    svg.append("circle").attr("cx", 658).attr("cy", ly).attr("r", 1.9).attr("fill", "#fff").attr("stroke", col);
    rich(672, ly + 4, [name], { size: 10.5 });
  });
  rich(608, 422, ["R", ["f", "sub"], "  (\u03a9)"], { size: 11.5, anchor: "middle", rotate: -90 });
  panelLetter("f", 601, 362);
}
</script>
</body>
</html>
